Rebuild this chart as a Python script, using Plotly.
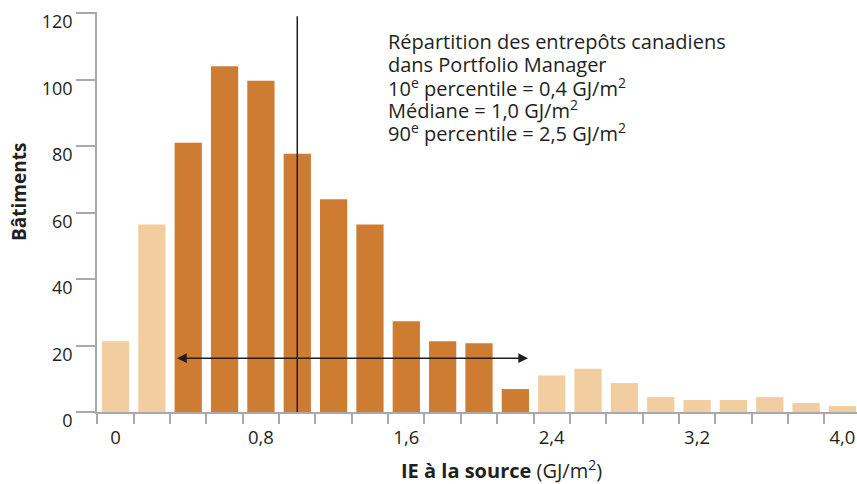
import plotly.graph_objects as go

# Data
ie_bins = [0.0, 0.2, 0.4, 0.6, 0.8, 1.0, 1.2, 1.4, 1.6, 1.8, 2.0,
           2.2, 2.4, 2.6, 2.8, 3.0, 3.2, 3.4, 3.6, 3.8, 4.0]
batiments = [21.3, 56.4, 81, 104, 99.6, 77.7, 64, 56.4, 27.3, 21.3, 20.7,
             6.9, 11, 13, 8.7, 4.5, 3.6, 3.6, 4.5, 2.7, 1.8]
in_range = [False, False, True, True, True, True, True, True, True, True, True,
            True, False, False, False, False, False, False, False, False, False]
tick_vals = [0.0, 0.8, 1.6, 2.4, 3.2, 4.0]
tick_text = ["0", "0,8", "1,6", "2,4", "3,2", "4,0"]
y_ticks = [0, 20, 40, 60, 80, 100, 120]
median = 1.0
arrow_start = 0.33
arrow_end = 2.27
vline_top = 119
info_lines = [
    "Répartition des entrepôts canadiens",
    "dans Portfolio Manager",
    "10<sup>e</sup> percentile = 0,4 GJ/m<sup>2</sup>",
    "Médiane = 1,0 GJ/m<sup>2</sup>",
    "90<sup>e</sup> percentile = 2,5 GJ/m<sup>2</sup>",
]

DARK = "#cf7c33"
LIGHT = "#f2cda0"
TEXT = "#231f20"
AXIS = "#a7a9ac"
FONT = "Open Sans"

colors = [DARK if r else LIGHT for r in in_range]

fig = go.Figure()
fig.add_trace(go.Bar(x=ie_bins, y=batiments, marker=dict(color=colors, line=dict(width=0)),
                     width=0.15, hoverinfo="x+y"))

fig.add_shape(type="line", x0=median, x1=median, y0=0, y1=vline_top, xref="x", yref="y",
              line=dict(color="#231f20", width=1.5), layer="above")

fig.add_annotation(x=arrow_end, y=16.2, ax=arrow_start, ay=16.2, xref="x", yref="y",
                   axref="x", ayref="y", text="", showarrow=True, arrowhead=2,
                   arrowside="end+start", arrowsize=1.3, arrowwidth=1.5, arrowcolor="#231f20")

# info text block, one annotation per line (left edge at x ~ 386px)
line_y_px = [42, 64.5, 87, 109.5, 132]
for txt, ypx in zip(info_lines, line_y_px):
    fig.add_annotation(x=(386 - 97) / 760, y=(412 - ypx) / 400, xref="paper", yref="paper",
                       xanchor="left", yanchor="middle", align="left", showarrow=False,
                       text=txt, font=dict(family=FONT, size=20, color=TEXT))

fig.add_annotation(x=(19 - 97) / 760, y=(412 - 192) / 400, xref="paper", yref="paper",
                   xanchor="center", yanchor="middle",
                   textangle=-90, showarrow=False, text="<b>Bâtiments</b>",
                   font=dict(family=FONT, size=19, color=TEXT))

fig.add_annotation(x=(501 - 97) / 760, y=(412 - 469) / 400, xref="paper", yref="paper",
                   xanchor="center", yanchor="middle", showarrow=False,
                   text="<b>IE à la source</b> (GJ/m<sup>2</sup>)",
                   font=dict(family=FONT, size=20, color=TEXT))

fig.update_layout(
    width=857, height=484,
    margin=dict(l=97, r=0, t=12, b=72, autoexpand=False),
    plot_bgcolor="white", paper_bgcolor="white",
    showlegend=False,
    font=dict(family=FONT, size=18.5, color=TEXT),
    xaxis=dict(range=[-0.102, 4.080], tickmode="array", tickvals=tick_vals, ticktext=tick_text,
               ticks="", showgrid=False, zeroline=False, showline=True, linecolor=AXIS,
               linewidth=1.5, ticklabelstandoff=8, automargin=False,
               ticklabeloverflow="allow",
               tickfont=dict(family=FONT, size=18.5, color=TEXT),
               minor=dict(tick0=0.1, dtick=0.2, ticks="outside", ticklen=10, tickwidth=1.5,
                          tickcolor=AXIS, showgrid=False)),
    yaxis=dict(range=[0, 120.3], tickmode="array", tickvals=y_ticks, ticks="outside",
               ticklen=19, tickwidth=1.5, tickcolor=AXIS, showgrid=False, zeroline=False,
               showline=True, linecolor=AXIS, linewidth=1.5, ticklabelshift=9,
               automargin=False, ticklabeloverflow="allow",
               tickfont=dict(family=FONT, size=18, color=TEXT)),
)

fig.write_html("out.html", config={"displayModeBar": False},
               post_script="document.body.style.margin='0';")
